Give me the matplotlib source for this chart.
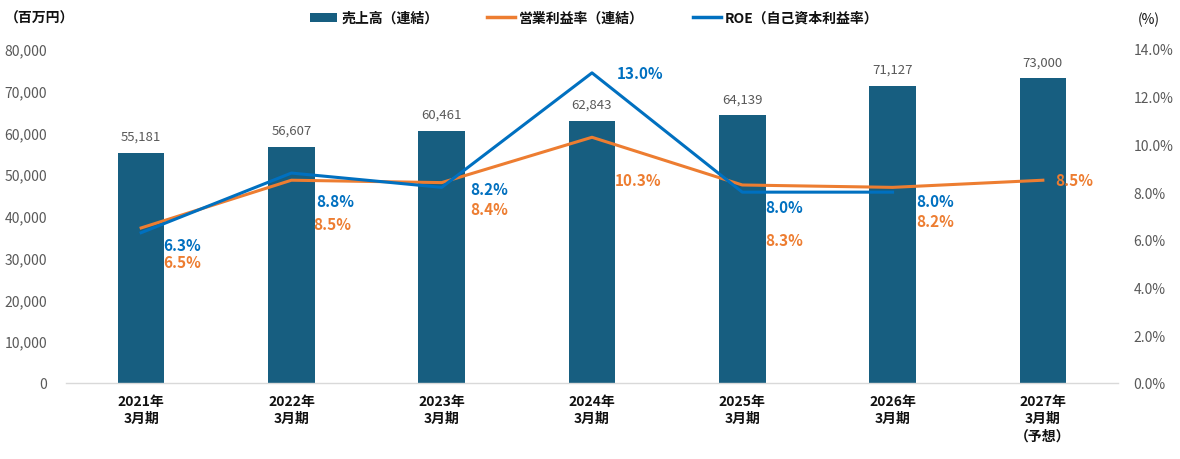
import matplotlib
matplotlib.use("Agg")
import matplotlib.pyplot as plt
from matplotlib.patches import Patch
from matplotlib.lines import Line2D

plt.rcParams['font.family'] = ['Noto Sans CJK JP', 'DejaVu Sans']

categories = ["2021年\n3月期", "2022年\n3月期", "2023年\n3月期", "2024年\n3月期",
              "2025年\n3月期", "2026年\n3月期", "2027年\n3月期\n（予想）"]
sales = [55181, 56607, 60461, 62843, 64139, 71127, 73000]
op_margin = [6.5, 8.5, 8.4, 10.3, 8.3, 8.2, 8.5]
roe = [6.3, 8.8, 8.2, 13.0, 8.0, 8.0]
left_ticks = [0, 10000, 20000, 30000, 40000, 50000, 60000, 70000, 80000]
right_ticks = [0, 2, 4, 6, 8, 10, 12, 14]

# label offsets in pixels (dx, dy down)
roe_off = [(22, -12), (25, -28), (29, -2), (25, 0), (23, -15), (24, -9)]
op_off = [(22, -34), (22, -44), (29, -26), (23, -43), (23, -55), (24, -34), (12, 0)]

BAR = '#175E80'
ORANGE = '#ED7D31'
BLUE = '#0070C0'
GRAY = '#595959'

fig = plt.figure(figsize=(11.8, 4.6), dpi=100)
ax = fig.add_axes([66/1180, 76/460, 1052/1180, 334/460])
ax2 = ax.twinx()

x = list(range(len(categories)))
bars = ax.bar(x, sales, width=0.31, color=BAR, zorder=2)
ax.set_xlim(-0.5, 6.5)
ax.set_ylim(0, 80000)
ax.set_yticks(left_ticks)
ax.set_yticklabels([f"{v:,}" for v in left_ticks])
ax.set_xticks(x)
ax.set_xticklabels(categories, fontweight='bold', fontsize=10, color='#111111', linespacing=1.3)
ax.tick_params(axis='x', length=0, pad=8)
ax.tick_params(axis='y', length=0, labelsize=10, labelcolor=GRAY, pad=13.5)
for s in ['top', 'right', 'left']:
    ax.spines[s].set_visible(False)
ax.spines['bottom'].set_color('#D9D9D9')
ax.spines['bottom'].set_linewidth(1)

for xi, v in zip(x, sales):
    ax.annotate(f"{v:,}", (xi, v), xytext=(0, 10), textcoords='offset pixels',
                ha='center', va='bottom', fontsize=9.5, color=GRAY)

ax2.set_ylim(0, 14)
ax2.set_yticks(right_ticks)
ax2.set_yticklabels([f"{v:.1f}%" for v in right_ticks])
ax2.tick_params(axis='y', length=0, labelsize=10, labelcolor=GRAY, pad=11)
for s in ['top', 'right', 'left', 'bottom']:
    ax2.spines[s].set_visible(False)

ax2.plot(x, op_margin, color=ORANGE, lw=2.2, zorder=3)
ax2.plot(x[:len(roe)], roe, color=BLUE, lw=2.2, zorder=4)

for xi, v, (dx, dy) in zip(x, roe, roe_off):
    ax2.annotate(f"{v:.1f}%", (xi, v), xytext=(dx, dy), textcoords='offset pixels',
                 ha='left', va='center', fontsize=11, fontweight='bold', color=BLUE)
for xi, v, (dx, dy) in zip(x, op_margin, op_off):
    ax2.annotate(f"{v:.1f}%", (xi, v), xytext=(dx, dy), textcoords='offset pixels',
                 ha='left', va='center', fontsize=11, fontweight='bold', color=ORANGE)

fig.text(5/1180, 1 - 19/460, "（百万円）", fontsize=10, fontweight='bold', ha='left', va='center',
         color='#111111')
fig.text(1138/1180, 1 - 20/460, "(%)", fontsize=10, ha='left', va='center', color='#111111')

handles = [Patch(facecolor=BAR, edgecolor='none'),
           Line2D([0], [0], color=ORANGE, lw=2.5),
           Line2D([0], [0], color=BLUE, lw=2.5)]
labels = ["売上高（連結）", "営業利益率（連結）", "ROE（自己資本利益率）"]
leg = fig.legend(handles, labels, loc='center', bbox_to_anchor=(594/1180, 1 - 19/460),
                 ncol=3, frameon=False, fontsize=10, handlelength=2.0, handleheight=0.6,
                 handletextpad=0.3, columnspacing=3.5)
for t in leg.get_texts():
    t.set_fontweight('bold')
    t.set_color('#111111')

fig.savefig("out.png", dpi=100)
